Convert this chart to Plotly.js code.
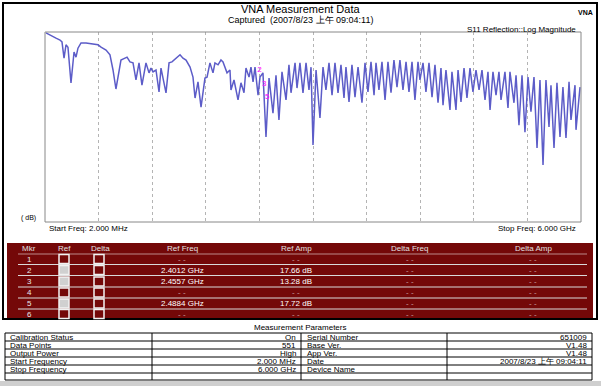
<!DOCTYPE html>
<html><head><meta charset="utf-8">
<script src="https://cdn.plot.ly/plotly-3.0.1.min.js"></script>
<style>html,body{margin:0;padding:0;background:#fff}#c{width:601px;height:386px}</style>
</head><body><div id="c"></div>
<script>
// ---- data ----
const freqGHz = [0.013,0.092,0.125,0.170,0.192,0.215,0.237,0.259,0.293,0.327,0.349,0.371,0.405,0.461,0.539,0.595,0.629,0.685,0.729,0.763,0.796,0.830,0.852,0.897,0.920,0.953,0.987,
1.020,1.054,1.087,1.132,1.166,1.188,1.211,1.244,1.278,1.300,1.356,1.390,1.423,1.468,1.513,1.546,1.580,1.625,1.658,1.681,1.714,1.748,1.792,1.815,1.848,1.882,1.904,1.938,1.971,
1.994,2.039,2.072,2.083,2.117,2.162,2.195,2.229,2.251,2.285,2.307,2.330,2.352,2.386,2.408,2.441,2.475,2.509,2.553,2.587,2.620,2.654,2.699,2.732,2.755,2.800,2.822,2.855,2.889,2.923,2.956,2.979,3.001,
3.035,3.079,3.113,3.146,3.180,3.214,3.247,3.281,3.314,3.348,3.370,3.404,3.437,3.471,3.505,3.549,3.583,3.616,3.650,3.684,3.706,3.739,3.773,3.807,3.840,3.874,3.907,3.941,3.974,4.008,4.042,4.075,4.109,4.142,
4.176,4.198,4.232,4.265,4.299,4.333,4.366,4.400,4.433,4.456,4.489,4.534,4.556,4.601,4.624,4.657,4.691,4.724,4.758,4.791,4.825,4.859,4.892,4.926,4.959,4.982,5.015,
5.049,5.082,5.105,5.149,5.183,5.205,5.250,5.273,5.306,5.340,5.373,5.407,5.440,5.474,5.508,5.541,5.575,5.608,5.642,5.664,5.698,5.731,5.765,5.798,5.832,5.866,5.888,5.933,5.944,5.989];
const s11dB = [-0.2,-1.1,-1.3,-1.7,-2.1,-5.5,-2.7,-3.2,-10.7,-4.2,-5.3,-3.4,-2.3,-2.3,-2.5,-2.7,-3.2,-3.8,-4.8,-8.0,-12.0,-8.6,-5.9,-5.5,-5.3,-6.3,-6.5,
-10.1,-6.5,-11.2,-6.5,-8.6,-7.6,-8.4,-8.0,-12.6,-7.6,-12.8,-6.5,-6.3,-5.5,-4.8,-5.5,-5.9,-7.4,-9.5,-13.9,-10.5,-15.8,-9.7,-9.5,-6.5,-8.6,-6.5,-6.9,-5.9,
-6.3,-8.6,-8.0,-12.2,-10.1,-14.3,-10.7,-12.8,-7.6,-9.5,-7.4,-10.5,-7.4,-13.3,-9.5,-8.6,-22.1,-9.7,-17.1,-9.1,-18.5,-8.4,-14.3,-6.9,-12.8,-6.5,-11.8,-6.5,-12.8,-6.5,-12.2,-7.4,-23.8,
-8.0,-18.1,-7.4,-12.2,-6.5,-13.3,-6.5,-12.8,-6.9,-13.9,-7.4,-14.7,-6.9,-13.7,-7.4,-14.9,-6.5,-12.6,-6.3,-13.3,-6.5,-12.2,-6.3,-14.3,-6.3,-12.8,-5.9,-11.6,-5.9,-12.2,-6.3,-12.6,-6.3,-14.3,
-6.3,-10.1,-6.5,-12.6,-6.5,-13.7,-6.9,-14.9,-7.6,-15.4,-8.0,-16.4,-8.4,-16.4,-8.0,-14.7,-7.6,-13.9,-7.6,-12.6,-8.0,-12.2,-8.0,-14.3,-8.4,-16.4,-8.4,
-13.3,-8.4,-14.3,-8.4,-16.0,-8.4,-14.9,-9.1,-19.6,-9.1,-21.1,-9.5,-16.8,-9.5,-24.4,-10.1,-28.0,-10.1,-20.0,-11.2,-24.4,-10.7,-22.1,-11.6,-22.3,-10.5,-18.5,-11.2,-20.6,-11.6];

const markerNames = ['2','3','5'];
const markerFreqGHz = [2.4012, 2.4557, 2.4884];
const markerPlotDB = [-8.0, -11.0, -13.6];

const tableHeaders = ['Mkr','Ref','Delta','Ref Freq','Ref Amp','Delta Freq','Delta Amp'];
const mkrIds = ['1','2','3','4','5','6'];
const mkrRefFreq = ['- -','2.4012 GHz','2.4557 GHz','- -','2.4884 GHz','- -'];
const mkrRefAmp = ['- -','17.66 dB','13.28 dB','- -','17.72 dB','- -'];
const mkrDeltaFreq = ['- -','- -','- -','- -','- -','- -'];
const mkrDeltaAmp = ['- -','- -','- -','- -','- -','- -'];
const mkrRefOn = [false,true,true,false,true,false];

const paramLabelsL = ['Calibration Status','Data Points','Output Power','Start Frequency','Stop Frequency',''];
const paramValuesL = ['On','551','High','2.000 MHz','6.000 GHz',''];
const paramLabelsR = ['Serial Number','Base Ver.','App Ver.','Date','Device Name',''];
const paramValuesR = ['651009','V1.48','V1.48','2007/8/23 上午 09:04:11','',''];

// ---- layout helpers ----
const W = 601, H = 386;
const X = p => p / W, Y = p => 1 - p / H;
const FONT = 'Liberation Sans, Arial, sans-serif';
const shapes = [], ann = [];
function rect(x0,y0,x1,y1,line,fill,lw){shapes.push({type:'rect',xref:'paper',yref:'paper',x0:X(x0),x1:X(x1),y0:Y(y1),y1:Y(y0),line:{color:line||'rgba(0,0,0,0)',width:lw===undefined?1:lw},fillcolor:fill||'rgba(0,0,0,0)',layer:'above'});}
function line(x0,y0,x1,y1,c,w){shapes.push({type:'line',xref:'paper',yref:'paper',x0:X(x0),x1:X(x1),y0:Y(y0),y1:Y(y1),line:{color:c,width:w||1},layer:'above'});}
function txt(t,x,y,size,color,anchor,bold){ann.push({text:bold?'<b>'+t+'</b>':t,xref:'paper',yref:'paper',x:X(x),y:Y(y),xanchor:anchor||'center',yanchor:'middle',showarrow:false,font:{family:FONT,size:size,color:color||'#000'}});}

// titles
txt('VNA Measurement Data',300,9.5,11,'#000');
txt('Captured  (2007/8/23 上午 09:04:11)',300,20,9,'#000');
txt('VNA',585,12,7,'#000','center',true);
txt('S11 Reflection::Log Magnitude',578,29,8,'#000','right');
txt('( dB)',28,218,7,'#000');
txt('Start Freq: 2.000 MHz',47,228.5,8,'#000','left');
txt('Stop Freq: 6.000 GHz',578,228.5,8,'#000','right');

// frame
rect(3,3,597,319,'#000',null,2);
// plot border
rect(45,32,581,222,'#888',null,1);

// marker table
rect(7,243,593,318,null,'#740808',0);
const colX = [29,64,100,182,296,410,533];
tableHeaders.forEach((h,i)=>txt(h,colX[i],248.5,8,'#e0e0e0'));
line(18,254,587,254,'#b88',1);
const rowY = [259,270,281.5,292.5,303.5,314];
[264.5,275.5,287,298,309].forEach(y=>line(18,y,587,y,'#d9d9d9',1));
mkrIds.forEach((m,i)=>{
  const y = rowY[i];
  txt(m,29,y,8,'#e8e8e8');
  rect(59,y-4.5,69,y+4.5,'#f2f2f2',mkrRefOn[i]?'#d0d0d0':null,1.5);
  rect(94,y-4.5,104,y+4.5,'#f2f2f2',null,1.5);
  const col = v => v==='- -' ? '#c8a0a0' : '#ffffff';
  txt(mkrRefFreq[i],182,y,8,col(mkrRefFreq[i]));
  txt(mkrRefAmp[i],296,y,8,col(mkrRefAmp[i]));
  txt(mkrDeltaFreq[i],410,y,8,col(mkrDeltaFreq[i]));
  txt(mkrDeltaAmp[i],533,y,8,col(mkrDeltaAmp[i]));
});

// measurement parameters table
txt('Measurement Parameters',300,327,8,'#000');
rect(5,333,592,380,'#000',null,1);
const pRowTop = [333,341,349,357,365,373,380];
for(let i=1;i<6;i++) line(5,pRowTop[i],592,pRowTop[i],'#000',1);
[152,301,447].forEach(x=>line(x,333,x,380,'#000',1));
paramLabelsL.forEach((t,i)=>{
  const y=(pRowTop[i]+pRowTop[i+1])/2;
  if(t) txt(t,8,y,8,'#000','left');
  if(paramValuesL[i]) txt(paramValuesL[i],298,y,8,'#000','right');
  if(paramLabelsR[i]) txt(paramLabelsR[i],305,y,8,'#000','left');
  if(paramValuesR[i]) txt(paramValuesR[i],589,y,8,'#000','right');
});
// bottom grey band
rect(0,381,601,386,null,'#cfcfcf',0);

// vertical grid positions (10 divisions)
const fStart = 0.002, fStop = 6.0;
const gridVals = []; for(let i=1;i<10;i++) gridVals.push(fStart + i*(fStop-fStart)/10);

const traces = [
 {x:freqGHz,y:s11dB,type:'scatter',mode:'lines',line:{color:'#5c5cc8',width:1.5},hoverinfo:'skip'},
 {x:markerFreqGHz,y:markerPlotDB,type:'scatter',mode:'text',text:markerNames,textfont:{family:FONT,size:8,color:'#ff00ff'},hoverinfo:'skip'}
];
const layout = {
 width:W,height:H,margin:{l:0,r:0,t:0,b:0},paper_bgcolor:'#fff',plot_bgcolor:'#fff',showlegend:false,
 xaxis:{domain:[X(45),X(581)],range:[fStart,fStop],tickvals:gridVals,showticklabels:false,ticks:'',showgrid:true,gridcolor:'#b4b4b4',griddash:'dot',gridwidth:1,zeroline:false,showline:false},
 yaxis:{domain:[Y(222),Y(32)],range:[-40,0],showticklabels:false,ticks:'',showgrid:false,zeroline:false,showline:false},
 shapes:shapes,annotations:ann
};
Plotly.newPlot('c',traces,layout,{staticPlot:true});
</script></body></html>
